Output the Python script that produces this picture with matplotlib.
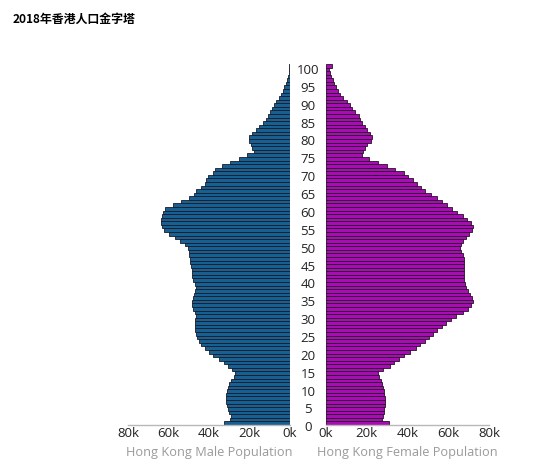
""" 2018 Hong Kong population pyramid """

import matplotlib
matplotlib.use("Agg")
import matplotlib.pyplot as plt
from matplotlib import transforms

plt.rcParams['font.family'] = ['Open Sans', 'Noto Sans CJK SC', 'DejaVu Sans']

ages = list(range(0, 101))

# thousands of people, index = age
male = [32.5, 29.5, 29.0, 30.0, 30.8, 31.2, 31.5, 31.6, 31.5, 31.3,
        30.8, 30.2, 29.0, 27.5, 27.0, 28.5, 30.5, 32.5, 35.0, 38.0,
        40.0, 42.0, 43.8, 45.0, 46.0, 46.5, 46.8, 46.9, 46.9, 46.7,
        46.5, 47.0, 47.8, 48.3, 48.3, 48.0, 47.5, 46.8, 46.5, 47.0,
        47.8, 48.3, 48.5, 48.6, 48.8, 49.2, 49.5, 49.8, 50.0, 50.5,
        52.0, 54.5, 57.0, 60.0, 62.0, 63.0, 63.5, 63.6, 63.3, 62.6,
        61.5, 58.0, 54.0, 50.0, 47.5, 46.2, 44.0, 42.2, 41.4, 40.5,
        38.0, 37.0, 33.8, 29.5, 25.3, 21.0, 17.7, 18.8, 19.4, 20.3,
        20.3, 18.6, 17.0, 15.2, 13.5, 12.0, 11.0, 10.0, 8.8, 7.8,
        6.7, 5.6, 4.6, 3.7, 2.9, 2.2, 1.6, 1.1, 0.7, 0.4,
        0.3]

female = [31.0, 27.3, 27.9, 28.3, 28.6, 28.8, 28.8, 28.8, 28.6, 28.4,
          28.1, 27.6, 27.0, 26.0, 25.6, 28.1, 31.4, 33.6, 35.9, 38.5,
          41.4, 44.2, 46.3, 48.5, 50.5, 52.5, 54.6, 56.8, 59.1, 61.2,
          64.0, 67.0, 69.5, 71.0, 72.0, 71.6, 70.6, 69.5, 68.7, 68.0,
          67.8, 67.8, 67.8, 67.8, 67.8, 67.8, 67.5, 67.0, 66.5, 65.8,
          66.2, 67.0, 68.7, 70.3, 71.6, 72.3, 71.1, 69.1, 67.0, 64.5,
          62.0, 59.6, 57.1, 54.6, 51.3, 48.8, 46.8, 44.7, 42.5, 40.2,
          38.1, 33.9, 29.8, 25.3, 21.0, 17.7, 18.2, 19.3, 20.3, 22.0,
          22.7, 21.5, 20.3, 19.0, 17.7, 16.7, 16.0, 14.4, 12.7, 11.6,
          10.4, 8.3, 7.1, 6.1, 5.0, 4.1, 3.3, 2.5, 1.9, 1.4,
          2.8]

ticks = [0, 20, 40, 60, 80]
tick_labels = ["0k", "20k", "40k", "60k", "80k"]
age_labels = list(range(0, 101, 5))

W, H = 544, 472
fig = plt.figure(figsize=(W / 100, H / 100), dpi=100)
bottom = (H - 425) / H
height = 361 / H
axL = fig.add_axes([128 / W, bottom, 162 / W, height])
axR = fig.add_axes([326 / W, bottom, 163 / W, height])

axL.barh(ages, male, height=1.0, color='#176092', edgecolor='#1a1a2a',
         linewidth=0.6)
axR.barh(ages, female, height=1.0, color='#a80db4', edgecolor='#2a102a',
         linewidth=0.6)

axL.set_xlim(80, 0)
axR.set_xlim(0, 80)
for ax, title in [(axL, "Hong Kong Male Population"),
                  (axR, "Hong Kong Female Population")]:
    ax.set_ylim(-0.5, 100.5)
    ax.set_yticks([])
    ax.set_xticks(ticks)
    ax.set_xticklabels(tick_labels)
    ax.tick_params(axis='x', length=0, pad=1.5, labelsize=9.5,
                   labelcolor='#222222')
    for s in ['top', 'left', 'right']:
        ax.spines[s].set_visible(False)
    ax.spines['bottom'].set_color('#b8b8b8')
    ax.spines['bottom'].set_linewidth(1.0)
    ax.set_xlabel(title, color='#9a9a9a', fontsize=9.2, labelpad=4.5)
    ax.set_facecolor('none')

trans = transforms.blended_transform_factory(fig.transFigure, axL.transData)
for a in age_labels:
    fig.text(308 / W, a - 1.3, str(a), transform=trans, ha='center',
             va='center', fontsize=9.5, color='#222222')

fig.text(13 / W, 1 - 19 / H, "2018年香港人口金字塔", fontsize=8.6,
         fontweight='bold', va='center', ha='left',
         family=['Noto Sans CJK SC', 'DejaVu Sans'])

fig.savefig('out.png', dpi=100)
